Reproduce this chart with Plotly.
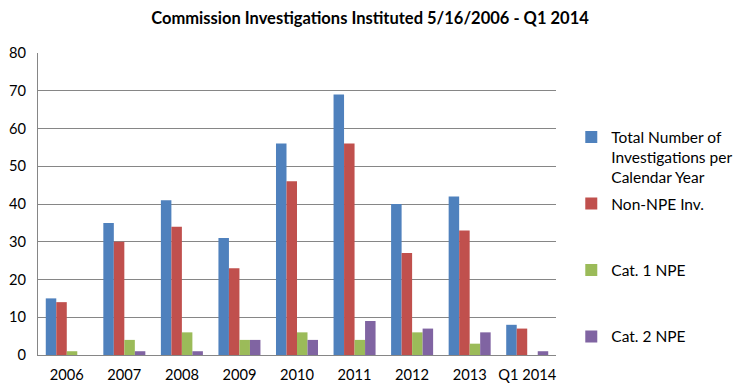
import plotly.graph_objects as go

categories = ["2006", "2007", "2008", "2009", "2010", "2011", "2012", "2013", "Q1 2014"]
total = [15, 35, 41, 31, 56, 69, 40, 42, 8]
non_npe = [14, 30, 34, 23, 46, 56, 27, 33, 7]
cat1 = [1, 4, 6, 4, 6, 4, 6, 3, 0]
cat2 = [0, 1, 1, 4, 4, 9, 7, 6, 1]

series = [
    ("Total Number of<br>Investigations per<br>Calendar Year", total, "#4F81BD"),
    ("Non-NPE Inv.<br> <br> ", non_npe, "#C0504D"),
    ("Cat. 1 NPE<br> <br> ", cat1, "#9BBB59"),
    ("Cat. 2 NPE", cat2, "#8064A2"),
]

fig = go.Figure()
for i, (name, vals, color) in enumerate(series):
    fig.add_trace(go.Bar(x=categories, y=vals, name=name, marker_color=color,
                         marker_line_width=0, legendgroup=str(i)))

font_family = "Lato, Open Sans, sans-serif"
fig.update_layout(
    width=740, height=391,
    margin=dict(l=38, r=184, t=53, b=36),
    paper_bgcolor="white", plot_bgcolor="white",
    barmode="group", bargap=0.27, bargroupgap=0,
    title=dict(text="<b>Commission Investigations Instituted 5/16/2006 - Q1 2014</b>",
               x=0.5, xref="container", xanchor="center", y=0.954, yanchor="middle",
               font=dict(family=font_family, size=16.5, color="black")),
    font=dict(family=font_family, size=14.67, color="black"),
    legend=dict(x=0.772, xanchor="left", xref="container",
                y=0.7765, yanchor="top", yref="paper", valign="top",
                font=dict(size=15.5), tracegroupgap=3, traceorder="grouped",
                itemwidth=30),
    yaxis=dict(range=[0, 80], dtick=10, showgrid=True, gridcolor="#868686", gridwidth=1,
               showline=True, linecolor="#868686", linewidth=1, ticks="",
               tickfont=dict(size=14.67), zeroline=False, ticklabelstandoff=8,
               automargin=False),
    xaxis=dict(showline=True, linecolor="#868686", linewidth=1, ticks="",
               tickfont=dict(size=14.67), ticklabelstandoff=6, automargin=False),
)
fig.write_html("out.html", config={"displayModeBar": False},
               post_script="document.body.style.margin='0';document.body.style.padding='0';")
